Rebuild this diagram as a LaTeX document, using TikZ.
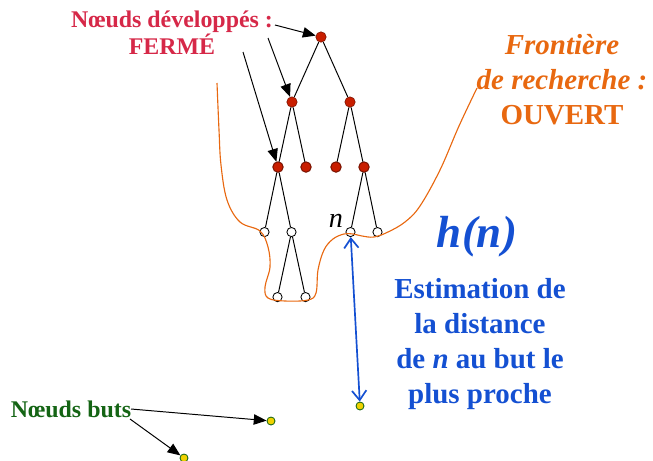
\documentclass[tikz,border=0pt]{standalone}
\usepackage{fontspec}
\setmainfont{Liberation Serif}
\usetikzlibrary{arrows.meta}

\definecolor{fermered}{RGB}{214,40,72}
\definecolor{nodered}{RGB}{200,30,0}
\definecolor{frontorange}{RGB}{232,104,16}
\definecolor{hblue}{RGB}{20,80,210}
\definecolor{goalgreen}{RGB}{20,100,20}
\definecolor{goalyellow}{RGB}{240,210,0}

\begin{document}
\begin{tikzpicture}[
                x=0.025cm, y=-0.025cm,
                level distance=1.625cm,
                edge from parent/.style={draw,line width=0.7pt},
                closed/.style={circle,draw=nodered!60!black,fill=nodered,inner sep=0pt,minimum size=2.6mm},
                open/.style={circle,draw,fill=white,line width=0.6pt,inner sep=0pt,minimum size=2.3mm},
                goal/.style={circle,draw=goalgreen,fill=goalyellow,line width=0.6pt,inner sep=0pt,minimum size=2mm},
                pointer/.style={-{Triangle[length=3.2mm,width=2.6mm]},line width=0.7pt},
                level 1/.style={sibling distance=1.45cm},
                level 2/.style={sibling distance=0.7cm},
                level 3/.style={sibling distance=0.675cm},
                level 4/.style={sibling distance=0.7cm}
            ]

            \useasboundingbox (0,0) rectangle (653,461);

            % arbre de recherche
            \node[closed] (r) at (321,37) {}
            child {node[closed] (r1) {}
                    child {node[closed] (r11) {}
                            child {node[open] (r111) {}}
                            child {node[open] (r112) {}
                                    child {node[open] (r1121) {}}
                                    child {node[open] (r1122) {}}
                                }
                        }
                    child {node[closed] (r12) {}}
                }
            child {node[closed] (r2) {}
                    child {node[closed] (r21) {}}
                    child {node[closed] (r22) {}
                            child {node[open] (r221) {}}
                            child {node[open] (r222) {}}
                        }
                };

            % frontiere
            \draw[frontorange,line width=0.8pt] plot[smooth,tension=0.6] coordinates {
                (217,83) (219,130) (221,165) (227,200) (240,222) (260,231)
                (268,247) (270,267) (265,287) (268,298) (285,301) (308,300)
                (316,293) (318,270) (324,250) (333,239) (344,234) (353,234)
                (362,236) (374,237) (388,232) (405,222) (420,206) (440,170)
                (459,126) (477,88)};

            % buts
            \node[goal] (g1) at (271,421) {};
            \node[goal] (g2) at (360,406) {};
            \node[goal] (g3) at (184,458) {};

            % textes
            \node[fermered,font=\fontsize{17}{19}\selectfont\bfseries,align=center] (ferme) at (172,33)
                {Nœuds développés :\\FERMÉ};
            \node[frontorange,font=\fontsize{20.6}{24.9}\selectfont\bfseries,align=center] (ouvert) at (562,80)
                {\textit{Frontière}\\\textit{de recherche :}\\OUVERT};
            \node[hblue,font=\fontsize{32}{36}\selectfont\bfseries\itshape] (hn) at (477,237) {h(n)};
            \node[hblue,font=\fontsize{20.6}{24.7}\selectfont\bfseries,align=center] (estim) at (480,344)
                {Estimation de\\la distance\\de \textit{n} au but le\\plus proche};
            \node[font=\fontsize{20}{24}\selectfont\itshape] (nlbl) at (336,221) {n};
            \node[goalgreen,font=\fontsize{17}{19}\selectfont\bfseries] (buts) at (71,409) {Nœuds buts};

            % fleches
            \coordinate (f1) at (275,25);
            \coordinate (f2) at (268,38);
            \coordinate (f3) at (243,52);
            \coordinate (b1) at (131,409);
            \coordinate (b2) at (130,419);
            \draw[pointer] (f1) -- (r);
            \draw[pointer] (f2) -- (r1);
            \draw[pointer] (f3) -- (r11);
            \draw[pointer] (b1) -- (g1);
            \draw[pointer] (b2) -- (g3);
            \draw[hblue,line width=1.2pt,{Straight Barb[length=2.4mm,width=3.6mm]}-{Straight Barb[length=2.4mm,width=3.6mm]}]
                (r221) -- (g2);

        \end{tikzpicture}
\end{document}
